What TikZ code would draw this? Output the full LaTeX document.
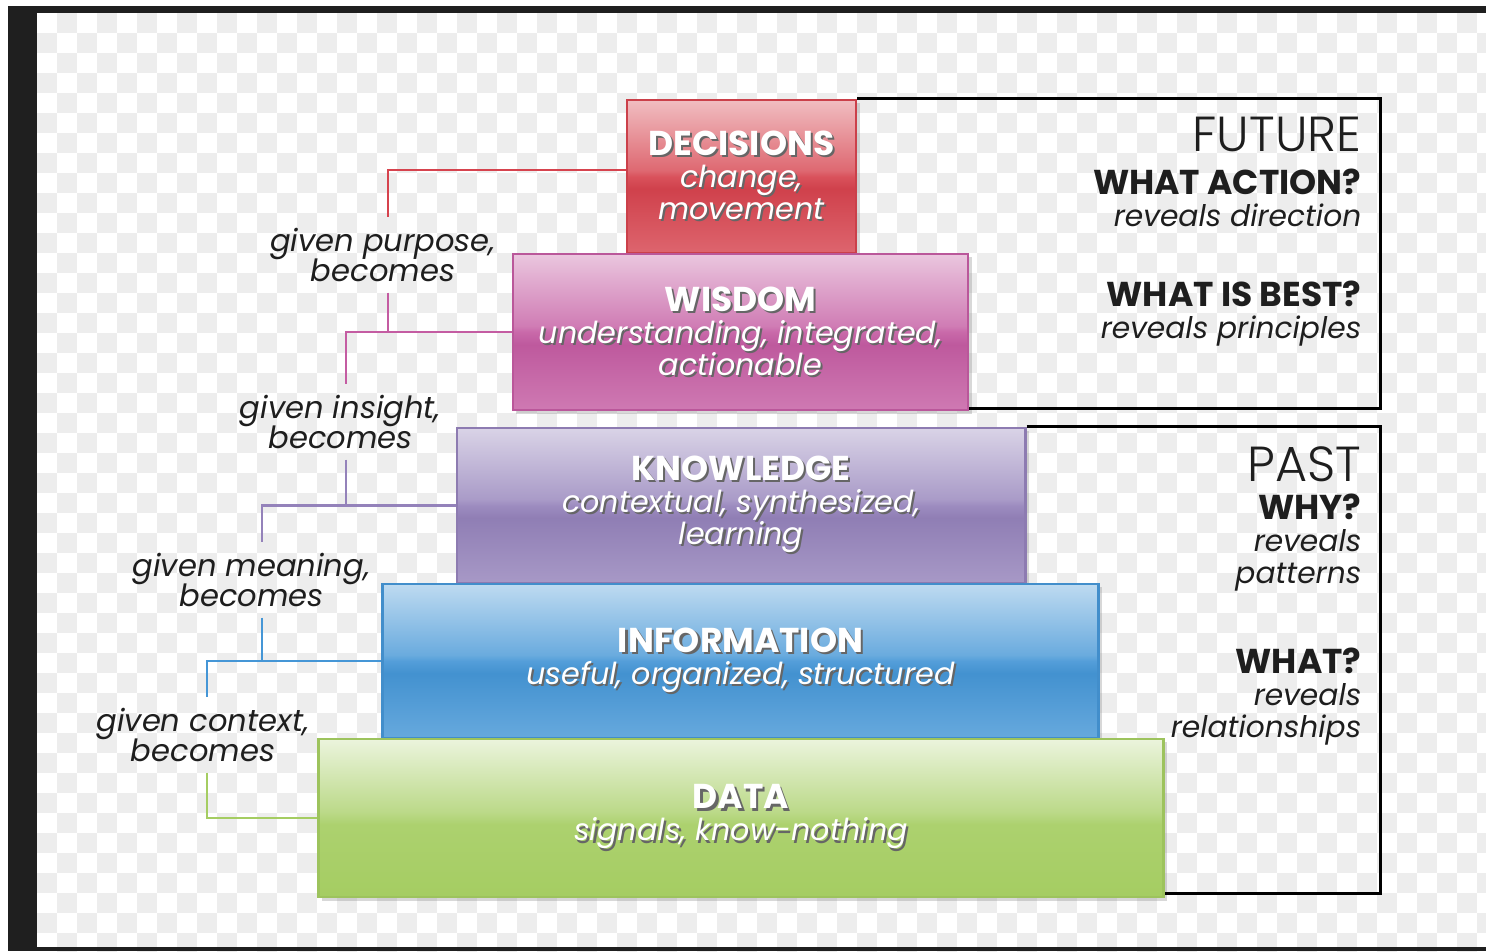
\documentclass[tikz,border=0pt]{standalone}
\usepackage{fontspec}
\setmainfont{Poppins}
\IfFontExistsTF{Poppins Light}{\newfontfamily\thinfont{Poppins Light}}{\newfontfamily\thinfont{Poppins}}
\usetikzlibrary{shadows}
\setlength{\lineskiplimit}{-6pt}

\definecolor{decb}{HTML}{D6434E}
\definecolor{wisb}{HTML}{C45CA2}
\definecolor{knob}{HTML}{9482BA}
\definecolor{infb}{HTML}{4596D6}
\definecolor{datb}{HTML}{A5CD62}
\definecolor{ink}{HTML}{1E1E1E}

% glossy fill: path runs from 25bp (bottom) to 75bp (top)
\newcommand{\glossy}[2]{%
  \pgfdeclareverticalshading{#1}{100bp}{color(0bp)=(#2!82!white); color(25bp)=(#2!82!white);
    color(46bp)=(#2!97!black); color(50bp)=(#2!92!white); color(52bp)=(#2!80!white);
    color(75bp)=(#2!35!white); color(100bp)=(#2!35!white)}}
\glossy{decshade}{decb}
\glossy{wisshade}{wisb}
\glossy{knoshade}{knob}
\glossy{infshade}{infb}
\pgfdeclareverticalshading{datshade}{100bp}{color(0bp)=(datb); color(25bp)=(datb);
    color(48bp)=(datb!92!white); color(52bp)=(datb!75!white);
    color(75bp)=(datb!22!white); color(100bp)=(datb!22!white)}

\newcommand{\shd}[1]{\makebox[0pt][l]{\hspace{.6pt}\raisebox{-.6pt}{\color{black!60}#1}}#1}

\tikzset{
  layer/.style={rectangle, line width=.75pt, text=white, align=center,
    font=\fontsize{8.6}{9.1}\selectfont,
    drop shadow={shadow xshift=.35mm, shadow yshift=-.35mm, opacity=.3}},
  declayer/.style={layer, draw=decb!95!black, shading=decshade},
  wislayer/.style={layer, draw=wisb!95!black, shading=wisshade},
  knolayer/.style={layer, draw=knob!95!black, shading=knoshade},
  inflayer/.style={layer, draw=infb!95!black, shading=infshade},
  datlayer/.style={layer, draw=datb!95!black, shading=datshade},
  given/.style={align=center, text=ink, inner sep=1mm, font=\fontsize{8.7}{8.6}\selectfont\itshape},
  side/.style={anchor=east, align=right, text=ink, inner sep=0pt, font=\fontsize{8.45}{9.1}\selectfont},
  link/.style={line width=.75pt},
  frame/.style={line width=.85pt, black}
}
\newcommand{\ttl}[1]{\shd{\fontsize{9.8}{9.1}\selectfont\bfseries #1}}
\newcommand{\sub}[1]{\shd{\itshape #1}}
\newcommand{\ask}[1]{{\fontsize{9.8}{9.1}\selectfont\bfseries #1}}

\begin{document}
\begin{tikzpicture}[x=0.01cm, y=-0.01cm]
\useasboundingbox (0,0) rectangle (1486,951);
\fill[white] (0,0) rectangle (1486,951);
% checker background
\foreach \i in {0,...,72}
  \foreach \j in {0,...,46}{
    \pgfmathtruncatemacro\k{mod(\i+\j,2)}
    \ifnum\k=1 \fill[black!7] (37+20*\i,13+20*\j) rectangle ++(20,20); \fi
  }
\fill[black!88] (8,6) rectangle (37,951);
\fill[black!88] (8,6) rectangle (1486,13);
\fill[black!88] (8,947) rectangle (1486,951);

% the five layers
\draw (741.5,176.5) node[declayer, minimum width=2.29cm, minimum height=1.53cm](decisions)
  {\ttl{DECISIONS}\\ \sub{change,}\\ \sub{movement}};
\draw (740.5,332) node[wislayer, minimum width=4.55cm, minimum height=1.56cm](wisdom)
  {\ttl{WISDOM}\\ \sub{understanding, integrated,}\\ \sub{actionable}};
\draw (741,505.5) node[knolayer, minimum width=5.68cm, minimum height=1.55cm](knowledge)
  {\ttl{KNOWLEDGE}\\ \sub{contextual, synthesized,}\\ \sub{learning}};
\draw (740.5,661) node[inflayer, minimum width=7.15cm, minimum height=1.54cm](information)
  {\ttl{INFORMATION}\\ \sub{useful, organized, structured}};
\draw (741,818) node[datlayer, minimum width=8.44cm, minimum height=1.58cm](data)
  {\ttl{DATA}\\ \sub{signals, know-nothing}};

% left labels
\draw (383,255) node[given](purpose) {given purpose,\\ becomes};
\draw (340.5,422) node[given](insight) {given insight,\\ becomes};
\draw (251.5,580) node[given](meaning) {given meaning,\\ becomes};
\draw (203,735) node[given](context) {given context,\\ becomes};

\draw[link, decb] ([yshift=.65mm]decisions.west) -| ([xshift=.5mm]purpose.north);
\draw[link, wisb] ([xshift=.5mm]purpose.south) |- (wisdom.west);
\draw[link, wisb] (wisdom.west) -| ([xshift=.55mm]insight.north);
\draw[link, knob] ([xshift=.55mm]insight.south) |- (knowledge.west);
\draw[link, knob] (knowledge.west) -| ([xshift=1.05mm]meaning.north);
\draw[link, infb] ([xshift=1.05mm]meaning.south) |- (information.west);
\draw[link, infb] (information.west) -| ([xshift=.4mm]context.north);
\draw[link, datb] ([xshift=.4mm]context.south) |- (data.west);

% future and past frames
\coordinate (futcorner) at (1380,408);
\coordinate (pastcorner) at (1380,893);
\draw[frame] (decisions.north east) -| (futcorner) -- (futcorner -| wisdom.east);
\draw[frame] (knowledge.north east) -| (pastcorner) -- (pastcorner -| data.east);

% right texts
\draw (1362,134) node[side, font=\fontsize{14}{14}\thinfont](future) {FUTURE};
\draw (1362,198) node[side](action) {\ask{WHAT ACTION?}\\ \textit{reveals direction}};
\draw (1362,314) node[side](best) {\ask{WHAT IS BEST?}\\ \textit{reveals principles}};
\draw (1362,464) node[side, font=\fontsize{14}{14}\thinfont](past) {PAST};
\draw (1362,543) node[side](why) {\ask{WHY?}\\ \textit{reveals}\\ \textit{patterns}};
\draw (1362,697) node[side](what) {\ask{WHAT?}\\ \textit{reveals}\\ \textit{relationships}};
\end{tikzpicture}
\end{document}
